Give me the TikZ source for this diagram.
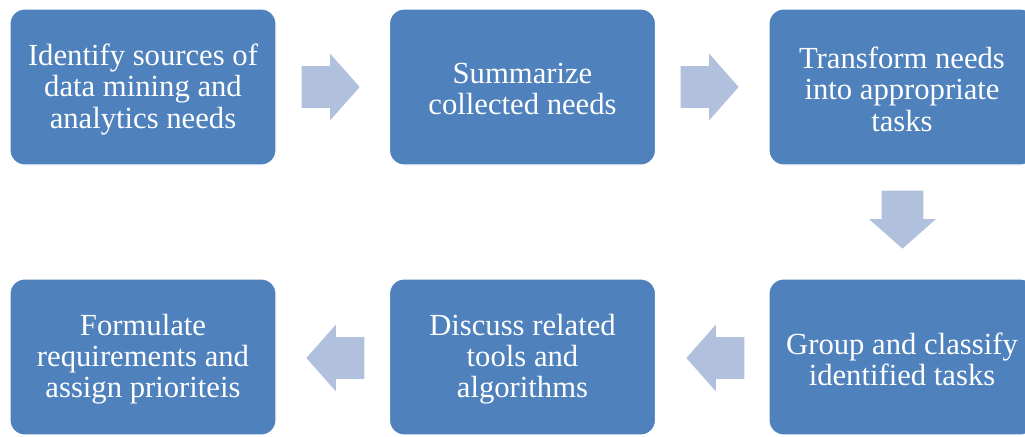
\documentclass[tikz,border=0pt]{standalone}
\usepackage{fontspec}
\setmainfont{Liberation Serif}
\usetikzlibrary{shapes.arrows}
\definecolor{boxblue}{HTML}{4F81BD}
\definecolor{arrowblue}{HTML}{B1C1DD}
\tikzset{
  stepbox/.style={rectangle, rounded corners=11pt, fill=boxblue, draw=white, line width=0.8pt,
    minimum width=199.5pt, minimum height=117pt, inner sep=0pt,
    label={[text=white, align=center, inner sep=0pt, yshift=-1.7pt,
      font=\fontsize{23pt}{23.5pt}\selectfont]center:#1}},
  blockarrow/.style={single arrow, fill=arrowblue, draw=none, inner xsep=0pt, inner ysep=15.375pt,
    minimum height=43.5pt, single arrow head extend=9.375pt,
    single arrow tip angle=97, anchor=tip}
}
\begin{document}
\begin{tikzpicture}[x=0.75pt,y=-0.75pt]
\useasboundingbox (0,0) rectangle (1025,436);
\clip (0,0) rectangle (1025,436);
\node[stepbox={Identify sources of\\data mining and\\analytics needs}] (b1) at (143,87) {};
\node[stepbox={Summarize\\collected needs}] (b2) at (522.5,87) {};
\node[stepbox={Transform needs\\into appropriate\\tasks}] (b3) at (902,87) {};
\node[stepbox={Group and classify\\identified tasks}] (b4) at (902,357) {};
\node[stepbox={Discuss related\\tools and\\algorithms}] (b5) at (522.5,357) {};
\node[stepbox={Formulate\\requirements and\\assign prioriteis}] (b6) at (143,357) {};
\node[blockarrow] (a1) at (360,87) {};
\node[blockarrow] (a2) at (739,87) {};
\node[blockarrow, rotate=-90] (a3) at (902.5,249) {};
\node[blockarrow, rotate=180] (a4) at (686,358) {};
\node[blockarrow, rotate=180] (a5) at (306,358) {};
\end{tikzpicture}
\end{document}
